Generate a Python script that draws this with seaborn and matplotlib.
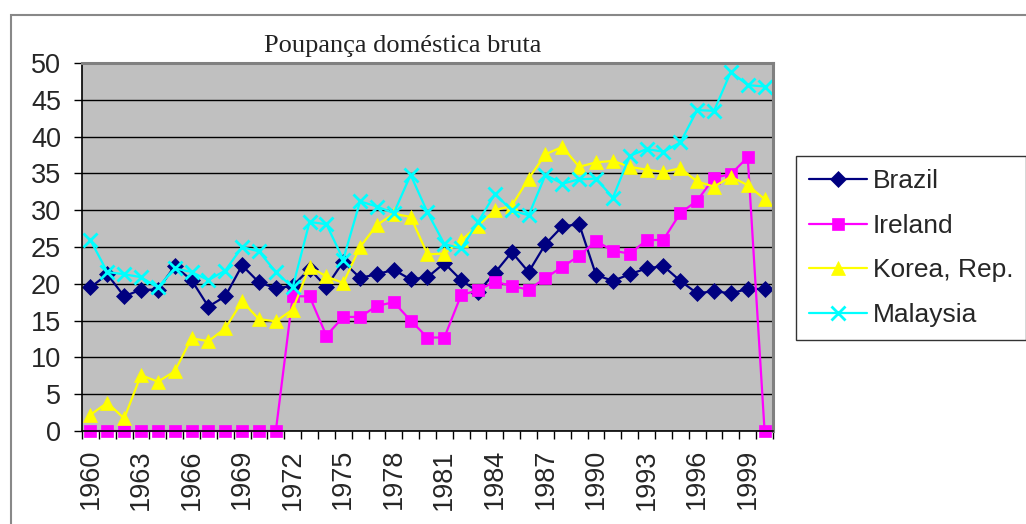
"""Poupança doméstica bruta: Brazil, Ireland, Korea and Malaysia, 1960-2000."""

import matplotlib
matplotlib.use("Agg")
import matplotlib.pyplot as plt
from matplotlib.patches import Rectangle
import pandas as pd
import seaborn as sns

years = list(range(1960, 2001))

brazil = [19.5, 21.3, 18.3, 19.2, 19.2, 22.4, 20.5, 16.9, 18.3, 22.5, 20.2, 19.4, 19.7,
          22.0, 19.6, 23.0, 20.8, 21.3, 21.9, 20.6, 20.9, 22.8, 20.5, 18.9, 21.5, 24.3, 21.6,
          25.4, 27.8, 28.1, 21.2, 20.4, 21.3, 22.1, 22.4, 20.4, 18.7, 19.0, 18.7, 19.3, 19.3]
ireland = [0, 0, 0, 0, 0, 0, 0, 0, 0, 0, 0, 0,
           18.3, 18.3, 12.95, 15.5, 15.5, 17.0, 17.5, 15.0, 12.7, 12.7, 18.5, 19.1, 20.3, 19.7,
           19.2, 20.8, 22.3, 23.8, 25.8, 24.5, 24.1, 25.9, 26.0, 29.6, 31.3, 34.4, 34.9, 37.2, 0]
korea = [2.2, 3.85, 1.7, 7.6, 6.7, 8.1, 12.6, 12.2, 13.95, 17.6, 15.2, 14.9, 16.5,
         22.3, 21.0, 20.1, 25.0, 28.0, 29.5, 29.1, 24.0, 24.1, 25.9, 27.9, 30.0, 30.6, 34.3,
         37.6, 38.6, 35.9, 36.5, 36.7, 35.9, 35.5, 35.2, 35.7, 33.9, 33.2, 34.55, 33.4, 31.5]
malaysia = [25.95, 21.6, 21.3, 20.9, 19.5, 22.1, 21.6, 20.5, 21.8, 25.0, 24.4, 21.6, 19.5,
            28.4, 28.1, 23.3, 31.2, 30.5, 29.6, 34.8, 29.7, 25.4, 24.8, 28.4, 32.2, 30.0, 29.3,
            34.8, 33.6, 34.2, 34.3, 31.7, 37.4, 38.3, 37.95, 39.2, 43.6, 43.5, 48.8, 47.0, 46.8]

countries = ["Brazil", "Ireland", "Korea, Rep.", "Malaysia"]
colors = ["#000080", "#FF00FF", "#FFFF00", "#00FFFF"]
markers = ["D", "s", "^", "x"]
marker_sizes = [8, 9, 10.5, 10]

tick_years = list(range(1960, 2000, 3))
y_ticks = list(range(0, 55, 5))

df = pd.DataFrame({"year": years, "Brazil": brazil, "Ireland": ireland,
                   "Korea, Rep.": korea, "Malaysia": malaysia})
long_df = df.melt(id_vars="year", var_name="country", value_name="value")

sns.set_style("white")
plt.rcParams["font.family"] = ["Liberation Sans", "DejaVu Sans"]

fig = plt.figure(figsize=(10.26, 5.24), dpi=100)
ax = fig.add_axes([82 / 1026, 1 - 431 / 524, (773 - 82) / 1026, (431 - 63) / 524])
ax.set_facecolor("#C0C0C0")

for name, col, mk, ms in zip(countries, colors, markers, marker_sizes):
    sub = long_df[long_df["country"] == name]
    sns.lineplot(data=sub, x="year", y="value", ax=ax, color=col, marker=mk,
                 markersize=ms, markeredgecolor=col, markeredgewidth=2 if mk == "x" else 0.5,
                 linewidth=1.6, label=name, clip_on=False)

ax.set_xlim(1959.5, 2000.5)
ax.set_ylim(0, 50)
ax.set_xlabel("")
ax.set_ylabel("")

ax.set_yticks(y_ticks)
ax.yaxis.grid(True, color="black", linewidth=1)
ax.set_axisbelow(True)
ax.tick_params(axis="y", which="major", direction="out", length=6, width=1,
               color="black", pad=9, labelsize=19.5, left=True)

ax.set_xticks(tick_years)
ax.set_xticklabels([str(y) for y in tick_years], rotation=90)
ax.set_xticks([y - 0.5 for y in years] + [2000.5], minor=True)
ax.tick_params(axis="x", which="major", length=0, pad=13, labelsize=19.5)
ax.tick_params(axis="x", which="minor", direction="out", length=6, width=1,
               color="black", bottom=True)

for side in ["left", "bottom"]:
    ax.spines[side].set_color("black")
    ax.spines[side].set_linewidth(1.2)
for side in ["top", "right"]:
    ax.spines[side].set_color("#808080")
    ax.spines[side].set_linewidth(2.2)

handles, labels = ax.get_legend_handles_labels()
ax.get_legend().remove()
leg = fig.legend(handles, labels, loc="upper left",
                 bbox_to_anchor=(796 / 1026, 1 - 156 / 524), borderaxespad=0,
                 fontsize=19, frameon=True, fancybox=False, edgecolor="black",
                 handlelength=2.2, handletextpad=0.2, labelspacing=0.78,
                 borderpad=0.5)
leg.get_frame().set_linewidth(1)

fig.text(403 / 1026, 1 - 52 / 524, "Poupança doméstica bruta", ha="center",
         va="baseline", fontsize=19, color="#222222",
         family=["Liberation Serif", "DejaVu Serif"])

fig.patches.append(Rectangle((11 / 1026, -0.1), 1.2, (524 - 15) / 524 + 0.1,
                             transform=fig.transFigure, fill=False,
                             edgecolor="#888888", linewidth=1.5))

fig.savefig("out.png", dpi=100)
